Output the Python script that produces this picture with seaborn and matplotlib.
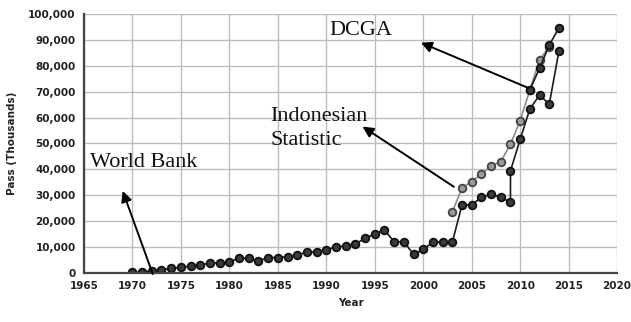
import numpy as np
import pandas as pd
import matplotlib
matplotlib.use("Agg")
import matplotlib.pyplot as plt
import seaborn as sns

# World Bank (black), last years rise steeply
wb_years = list(range(1970, 2010)) + [2009, 2010, 2011, 2012, 2013, 2014]
wb_pass = [300, 300, 800, 1300, 1800, 2200, 2700, 3100, 3900, 3900,
           4400, 5700, 5700, 4600, 6000, 6000, 6300, 6800, 8200, 8200,
           8900, 10200, 10400, 11200, 13400, 15100, 16600, 12100, 12100, 7200,
           9100, 11900, 11900, 11900, 26300, 26300, 29200, 30400, 29200, 27300,
           39400, 51600, 63300, 68700, 65100, 85700]

# Indonesian Statistic (grey)
bps_years = [2003, 2004, 2005, 2006, 2007, 2008, 2009, 2010, 2011, 2012, 2013]
bps_pass = [23500, 32900, 35300, 38200, 41400, 43000, 49700, 58800, 70700, 82200, 87400]

# DCGA (black)
dcga_years = [2011, 2012, 2013, 2014]
dcga_pass = [70700, 79000, 88000, 94500]

sns.set_style("whitegrid")
plt.rcParams['font.family'] = ['DejaVu Sans']

fig = plt.figure(figsize=(6.31, 3.22), dpi=100)
ax = fig.add_axes([0.133, 0.152, 0.845, 0.805])

sns.lineplot(x=bps_years, y=bps_pass, ax=ax, sort=False, estimator=None,
             color='#8a8a8a', marker='o', markersize=5.5, markerfacecolor='#9a9a9a',
             markeredgecolor='#444444', markeredgewidth=1.3, linewidth=1.2)
sns.lineplot(x=wb_years, y=wb_pass, ax=ax, sort=False, estimator=None,
             color='#1a1a1a', marker='o', markersize=5.5, markerfacecolor='#3a3a3a',
             markeredgecolor='#111111', markeredgewidth=1.3, linewidth=1.2)
sns.lineplot(x=dcga_years, y=dcga_pass, ax=ax, sort=False, estimator=None,
             color='#1a1a1a', marker='o', markersize=5.5, markerfacecolor='#3a3a3a',
             markeredgecolor='#111111', markeredgewidth=1.3, linewidth=1.2)

ax.set_xlim(1965, 2020)
ax.set_ylim(0, 100000)
ax.set_xticks(np.arange(1965, 2021, 5))
ax.set_yticks(np.arange(0, 100001, 10000))
ax.set_yticklabels([f"{v:,}" for v in range(0, 100001, 10000)])
ax.tick_params(axis='both', labelsize=7.5, length=0, pad=6)
for lab in ax.get_xticklabels() + ax.get_yticklabels():
    lab.set_fontweight('bold')
    lab.set_color('#222222')

ax.grid(True, color='#bdbdbd', linewidth=1.0, linestyle='-')
for s in ['top', 'right']:
    ax.spines[s].set_visible(False)
for s in ['left', 'bottom']:
    ax.spines[s].set_color('#444444')
    ax.spines[s].set_linewidth(1.6)

ax.set_xlabel('Year', fontsize=7.5, fontweight='bold', color='#222222', labelpad=5)
ax.set_ylabel('Pass (Thousands)', fontsize=7.5, fontweight='bold', color='#222222',
              labelpad=8)

arrow = dict(arrowstyle='-|>', color='black', lw=1.4, mutation_scale=16)
serif = dict(family='Liberation Serif', fontsize=16, color='#111111', va='baseline')

ax.text(1965.6, 41000, 'World Bank', **serif)
ax.annotate('', xy=(1968.9, 32700), xytext=(1972.2, -1400), arrowprops=arrow,
            annotation_clip=False)

ax.text(1984.2, 58800, 'Indonesian', **serif)
ax.text(1984.2, 49400, 'Statistic', **serif)
ax.annotate('', xy=(1993.5, 57100), xytext=(2003.4, 32700), arrowprops=arrow)

ax.text(1990.3, 91900, 'DCGA', **serif)
ax.annotate('', xy=(1999.5, 89300), xytext=(2011.1, 71000), arrowprops=arrow)

fig.savefig('out.png', dpi=100)
